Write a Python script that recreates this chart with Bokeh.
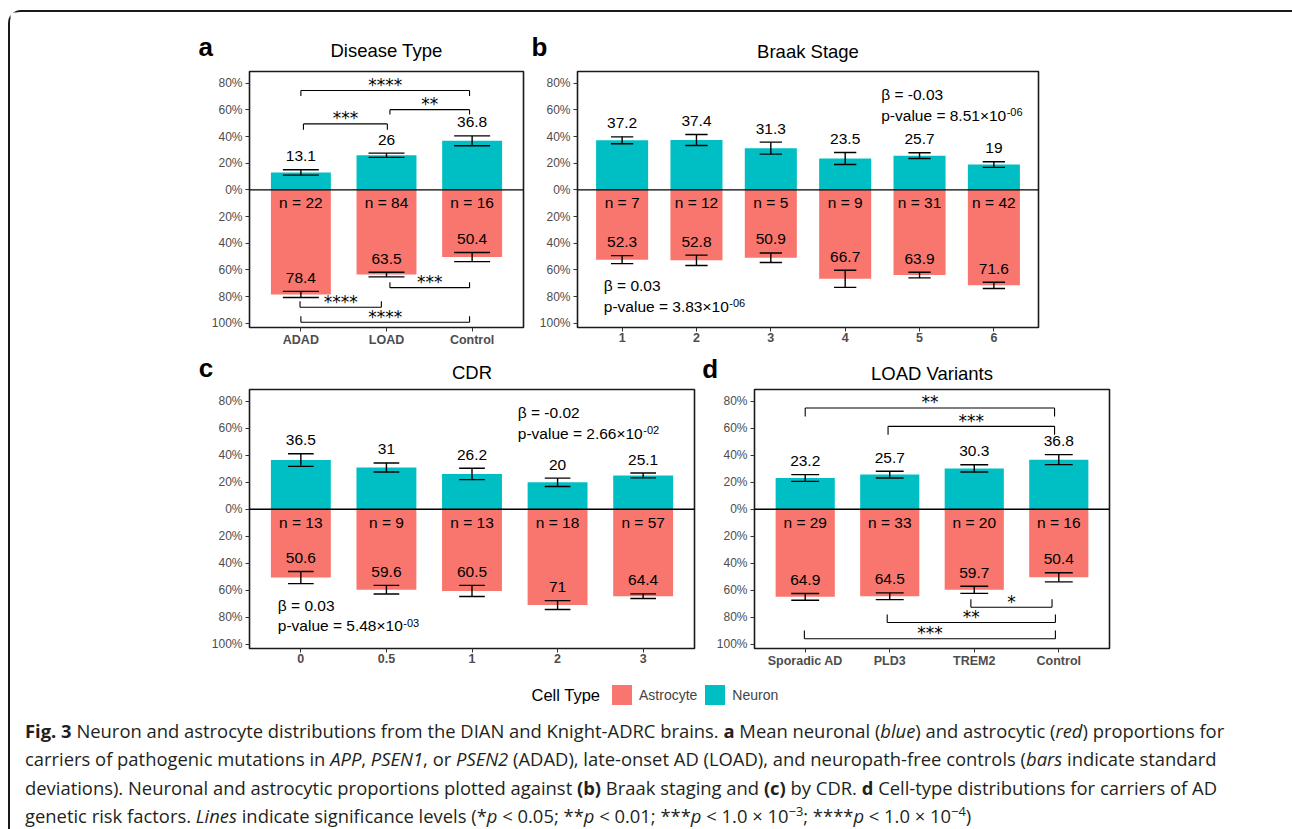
import numpy as np
from bokeh.plotting import figure
from bokeh.models import (Range1d, FixedTicker, Label, Span, Legend, LegendItem,
                          Div, Spacer)
from bokeh.layouts import row, column
from bokeh.embed import file_html
from bokeh.resources import INLINE
from bokeh.core.properties import value

NEURON = "#00BFC4"
ASTRO = "#F8766D"
FONT = "Liberation Sans"

# ---------------- data ----------------
y_ticks = [-100, -80, -60, -40, -20, 0, 20, 40, 60, 80]
y_tick_labels = ["100%", "80%", "60%", "40%", "20%", "0%", "20%", "40%", "60%", "80%"]

# panel a : Disease Type
a_cats = ["ADAD", "LOAD", "Control"]
a_neuron = [13.1, 26, 36.8]
a_neuron_sd = [2.0, 1.6, 3.7]
a_astro = [78.4, 63.5, 50.4]
a_astro_sd = [2.3, 1.7, 3.4]
a_n = [22, 84, 16]
a_sig_x1 = [1.00, 1.03, 2.04, 0.99, 2.04, 1.00]
a_sig_x2 = [2.97, 2.01, 2.97, 1.94, 2.97, 2.97]
a_sig_y = [74.5, 49.5, 60.2, -88.0, -73.3, -99.3]
a_sig_tip = [-4.0, -4.3, -3.7, 4.5, 4.0, 4.5]
a_sig_label = ["****", "***", "**", "****", "***", "****"]

# panel b : Braak Stage
b_cats = ["1", "2", "3", "4", "5", "6"]
b_neuron = [37.2, 37.4, 31.3, 23.5, 25.7, 19]
b_neuron_sd = [2.6, 4.1, 4.5, 4.5, 2.2, 2.1]
b_astro = [52.3, 52.8, 50.9, 66.7, 63.9, 71.6]
b_astro_sd = [3.0, 3.9, 3.6, 6.4, 2.1, 2.3]
b_n = [7, 12, 5, 9, 31, 42]
b_beta = [-0.03, 0.03]
b_p_mant = ["8.51", "3.83"]
b_p_exp = ["-06", "-06"]
b_stat_x = [4.485, 0.754]
b_beta_y = [71.6, -72.0]
b_p_y = [56.1, -87.2]

# panel c : CDR
c_cats = ["0", "0.5", "1", "2", "3"]
c_neuron = [36.5, 31, 26.2, 20, 25.1]
c_neuron_sd = [4.7, 3.35, 4.2, 3.1, 1.8]
c_astro = [50.6, 59.6, 60.5, 71, 64.4]
c_astro_sd = [4.5, 3.2, 4.1, 3.3, 1.7]
c_n = [13, 9, 13, 18, 57]
c_beta = [-0.02, 0.03]
c_p_mant = ["2.66", "5.48"]
c_p_exp = ["-02", "-03"]
c_stat_x = [3.535, 0.731]
c_beta_y = [71.8, -71.0]
c_p_y = [56.2, -86.5]

# panel d : LOAD Variants
d_cats = ["Sporadic AD", "PLD3", "TREM2", "Control"]
d_neuron = [23.2, 25.7, 30.3, 36.8]
d_neuron_sd = [2.5, 2.5, 2.7, 3.7]
d_astro = [64.9, 64.5, 59.7, 50.4]
d_astro_sd = [2.5, 2.5, 2.6, 3.4]
d_n = [29, 33, 20, 16]
d_sig_x1 = [1.00, 1.98, 2.96, 1.97, 0.99]
d_sig_x2 = [3.95, 3.95, 3.92, 3.96, 3.96]
d_sig_y = [75.1, 61.5, -72.6, -83.9, -96.0]
d_sig_tip = [-6.4, -6.2, 5.9, 5.9, 6.1]
d_sig_label = ["**", "***", "*", "**", "***"]

panel_letters = ["a", "b", "c", "d"]
panel_titles = ["Disease Type", "Braak Stage", "CDR", "LOAD Variants"]
legend_title = "Cell Type"
legend_labels = ["Astrocyte", "Neuron"]

# ---------------- helpers ----------------
ARIAL_W = {'p': 556, '-': 333, 'v': 500, 'a': 556, 'l': 222, 'u': 556, 'e': 556,
           ' ': 278, '=': 584, '.': 278, '×': 584}


def text_width(s, size):
    return sum(ARIAL_W.get(ch, 556) for ch in s) * size / 1000.0


def fmt(v):
    return f"{v:g}"


TXT = "15.5px"
PAGE_W = 1280  # inner width (page x 10 .. 1290)


def make_panel(cats, neu, neu_sd, ast, ast_sd, ns, cap, width, height, mb,
               sig=None, stats=None):
    k = len(cats)
    pos = np.arange(1, k + 1, dtype=float)
    neu = np.array(neu, float)
    neu_sd = np.array(neu_sd, float)
    ast = -np.array(ast, float)
    ast_sd = np.array(ast_sd, float)

    p = figure(width=width, height=height,
               x_range=Range1d(0.4, k + 0.6), y_range=Range1d(-103.2, 88.8),
               output_backend="svg", toolbar_location=None,
               min_border_left=mb[0], min_border_right=mb[1],
               min_border_top=mb[2], min_border_bottom=mb[3])
    p.grid.visible = False
    p.outline_line_color = "#1a1a1a"
    p.outline_line_width = 1.6
    p.background_fill_color = "white"
    p.border_fill_color = "white"

    # bars
    p.vbar(x=pos, top=neu, bottom=0, width=0.7, fill_color=NEURON, line_color=None)
    p.vbar(x=pos, top=0, bottom=ast, width=0.7, fill_color=ASTRO, line_color=None)

    # error bars (standard deviations)
    for v, sd in ((neu, neu_sd), (ast, ast_sd)):
        lo, hi = v - sd, v + sd
        p.segment(x0=pos, y0=lo, x1=pos, y1=hi, line_color="black", line_width=1.4)
        p.segment(x0=pos - cap / 2, y0=lo, x1=pos + cap / 2, y1=lo, line_color="black", line_width=1.4)
        p.segment(x0=pos - cap / 2, y0=hi, x1=pos + cap / 2, y1=hi, line_color="black", line_width=1.4)

    p.add_layout(Span(location=0, dimension="width", line_color="black", line_width=1.4))

    # value labels
    common = dict(text_align="center", text_baseline="middle", text_font=value(FONT),
                  text_font_size=TXT, text_color="black")
    p.text(x=pos, y=neu + neu_sd, text=[fmt(v) for v in neu], y_offset=-13.5, **common)
    p.text(x=pos, y=ast + ast_sd, text=[fmt(-v) for v in ast], y_offset=-13.5, **common)
    p.text(x=pos, y=np.zeros(k), text=[f"n = {n}" for n in ns], y_offset=13, **common)

    # significance brackets
    if sig is not None:
        x1, x2, yy, tip, lab = (np.array(sig[0]), np.array(sig[1]), np.array(sig[2]),
                                np.array(sig[3]), sig[4])
        p.segment(x0=x1, y0=yy, x1=x2, y1=yy, line_color="black", line_width=1.1)
        p.segment(x0=x1, y0=yy, x1=x1, y1=yy + tip, line_color="black", line_width=1.1)
        p.segment(x0=x2, y0=yy, x1=x2, y1=yy + tip, line_color="black", line_width=1.1)
        p.text(x=(x1 + x2) / 2, y=yy, text=lab, text_align="center",
               text_baseline="middle", y_offset=-5.5, text_font=value("DejaVu Sans"),
               text_font_size="17px", text_color="black")

    # regression statistics
    if stats is not None:
        betas, mants, exps, sx, by, py = stats
        lcommon = dict(text_align="left", text_baseline="middle", text_font=value(FONT),
                       text_color="black")
        p.text(x=sx, y=by, text=[f"β = {b:.2f}" for b in betas], text_font_size=TXT, **lcommon)
        mains = [f"p-value = {m}×10" for m in mants]
        p.text(x=sx, y=py, text=mains, text_font_size=TXT, **lcommon)
        p.text(x=sx, y=py, text=exps, text_font_size="11px",
               x_offset=[text_width(m, 15.5) + 0.5 for m in mains], y_offset=-3.4, **lcommon)

    # axes
    p.xaxis.ticker = FixedTicker(ticks=list(pos))
    p.xaxis.major_label_overrides = {float(x): c for x, c in zip(pos, cats)}
    p.yaxis.ticker = FixedTicker(ticks=y_ticks)
    p.yaxis.major_label_overrides = {t: l for t, l in zip(y_ticks, y_tick_labels)}
    for ax in (p.xaxis, p.yaxis):
        ax.axis_line_color = None
        ax.major_tick_line_color = "#333333"
        ax.major_tick_out = 4
        ax.major_tick_in = 0
        ax.minor_tick_line_color = None
        ax.major_label_text_color = "#4D4D4D"
        ax.major_label_text_font = FONT
    p.xaxis.major_label_text_font_style = "bold"
    p.xaxis.major_label_text_font_size = "12.5px"
    p.xaxis.major_label_standoff = 1
    p.yaxis.major_label_text_font_size = "12px"
    p.yaxis.major_label_standoff = 3
    return p


def header(height, y_top, letters, letter_x, letter_y, titles, title_x, title_y):
    # strip whose data coordinates equal page pixels (y downward)
    h = figure(width=PAGE_W, height=height, x_range=Range1d(10, 10 + PAGE_W),
               y_range=Range1d(y_top + height, y_top), x_axis_location=None,
               y_axis_location=None, min_border=0, toolbar_location=None,
               output_backend="svg")
    h.outline_line_color = None
    h.grid.visible = False
    h.text(x=letter_x, y=letter_y, text=letters, text_align="left", text_baseline="middle",
           text_font=value(FONT), text_font_style="bold", text_font_size="26px",
           text_color="black")
    h.text(x=title_x, y=title_y, text=titles, text_align="center", text_baseline="middle",
           text_font=value(FONT), text_font_size="18.5px", text_color="black")
    return h


# geometry (page pixels): figure left, width, min borders (l, r, t, b)
A = dict(left=190, width=340, mb=(59, 7, 4, 26))
B = dict(left=530, width=515, mb=(47, 7, 4, 26))
C = dict(left=190, width=510, mb=(59, 6, 4, 24))
D = dict(left=700, width=415, mb=(54, 6, 4, 24))


def frame_center(g):
    return g["left"] + g["mb"][0] + (g["width"] - g["mb"][0] - g["mb"][1]) / 2


pa = make_panel(a_cats, a_neuron, a_neuron_sd, a_astro, a_astro_sd, a_n, 0.42,
                A["width"], 286, A["mb"],
                sig=(a_sig_x1, a_sig_x2, a_sig_y, a_sig_tip, a_sig_label))
pb = make_panel(b_cats, b_neuron, b_neuron_sd, b_astro, b_astro_sd, b_n, 0.30,
                B["width"], 286, B["mb"],
                stats=(b_beta, b_p_mant, b_p_exp, b_stat_x, b_beta_y, b_p_y))
pc = make_panel(c_cats, c_neuron, c_neuron_sd, c_astro, c_astro_sd, c_n, 0.30,
                C["width"], 287, C["mb"],
                stats=(c_beta, c_p_mant, c_p_exp, c_stat_x, c_beta_y, c_p_y))
pd_ = make_panel(d_cats, d_neuron, d_neuron_sd, d_astro, d_astro_sd, d_n, 0.33,
                 D["width"], 287, D["mb"],
                 sig=(d_sig_x1, d_sig_x2, d_sig_y, d_sig_tip, d_sig_label))

h1 = header(55, 12, panel_letters[0:2], [198, 531], [46, 46],
            panel_titles[0:2], [frame_center(A), frame_center(B)], [50.3, 50.9])
h2 = header(32, 353, panel_letters[2:4], [198.3, 701.7], [367.7, 368.7],
            panel_titles[2:4], [frame_center(C), frame_center(D)], [372.3, 372.6])

# ---------------- legend strip ----------------
leg = figure(width=PAGE_W, height=40, x_range=Range1d(0, 1), y_range=Range1d(0, 1),
             x_axis_location=None, y_axis_location=None, min_border=0,
             toolbar_location=None, output_backend="svg")
leg.outline_line_color = None
leg.grid.visible = False
r_ast = leg.vbar(x=[0], top=[0], bottom=[0], width=0, fill_color=ASTRO, line_color=None)
r_neu = leg.vbar(x=[0], top=[0], bottom=[0], width=0, fill_color=NEURON, line_color=None)
legend = Legend(items=[LegendItem(label=legend_labels[0], renderers=[r_ast]),
                       LegendItem(label=legend_labels[1], renderers=[r_neu])],
                orientation="horizontal", location=(599, 5),
                glyph_width=25, glyph_height=25, label_height=25,
                label_text_font=FONT, label_text_font_size="14px",
                label_text_baseline="middle",
                padding=0, margin=0, spacing=5, label_standoff=5,
                border_line_color=None, background_fill_alpha=0)
leg.add_layout(legend)
leg.add_layout(Label(x=521, y=18, x_units="screen", y_units="screen", text=legend_title,
                     text_font=FONT, text_font_size="16.5px", text_baseline="middle",
                     text_color="black"))

# ---------------- caption ----------------
sup = '<sup style="font-size:70%;line-height:0;">'
caption_html = (
    '<div style="font-family:\'Open Sans\';font-size:18.4px;line-height:28.3px;'
    'color:#231f20;white-space:nowrap;padding-left:10px;padding-top:0px;">'
    '<b>Fig. 3</b> Neuron and astrocyte distributions from the DIAN and Knight-ADRC brains. '
    '<b>a</b> Mean neuronal (<i>blue</i>) and astrocytic (<i>red</i>) proportions for<br>'
    'carriers of pathogenic mutations in <i>APP</i>, <i>PSEN1</i>, or <i>PSEN2</i> (ADAD), '
    'late-onset AD (LOAD), and neuropath-free controls (<i>bars</i> indicate standard<br>'
    'deviations). Neuronal and astrocytic proportions plotted against <b>(b)</b> Braak staging '
    'and <b>(c)</b> by CDR. <b>d</b> Cell-type distributions for carriers of AD<br>'
    'genetic risk factors. <i>Lines</i> indicate significance levels '
    '(*<i>p</i>&nbsp;&lt;&nbsp;0.05; **<i>p</i>&nbsp;&lt;&nbsp;0.01; '
    '***<i>p</i>&nbsp;&lt;&nbsp;1.0&nbsp;×&nbsp;10' + sup + '−3</sup>; '
    '****<i>p</i>&nbsp;&lt;&nbsp;1.0&nbsp;×&nbsp;10' + sup + '−4</sup>)'
    '</div>'
)
cap = Div(text=caption_html, width=PAGE_W, height=117, styles={"overflow": "visible"})

row1 = row(Spacer(width=180, height=286), pa, pb)
row2 = row(Spacer(width=180, height=287), pc, pd_)
inner = column(h1, row1, h2, row2, leg, cap,
               styles={"border-top": "2px solid #1a1a1a",
                       "border-left": "2px solid #1a1a1a",
                       "border-top-left-radius": "13px"})
page = column(Spacer(width=1290, height=10), row(Spacer(width=8, height=819), inner))

open("out.html", "w").write(file_html(page, INLINE))
